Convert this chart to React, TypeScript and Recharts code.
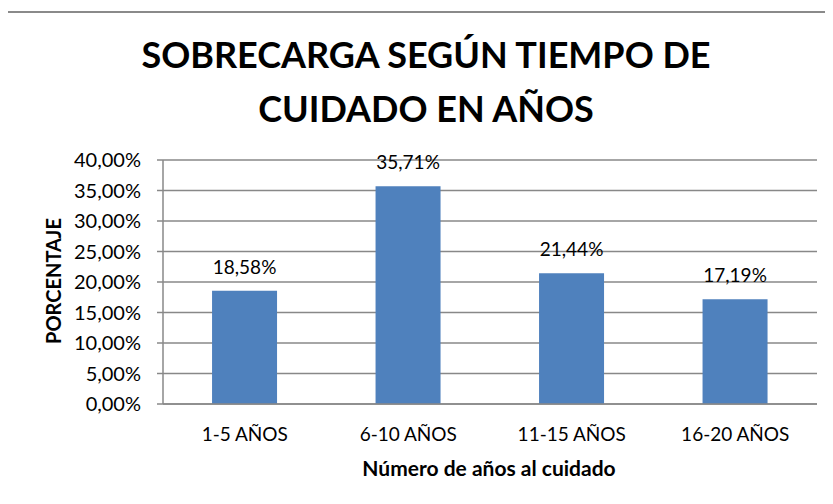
import React from "react";
import { BarChart, Bar, XAxis, YAxis, CartesianGrid, LabelList } from "recharts";

const categories = ["1-5 AÑOS", "6-10 AÑOS", "11-15 AÑOS", "16-20 AÑOS"];
const values = [18.58, 35.71, 21.44, 17.19];
const yTicks = [0, 5, 10, 15, 20, 25, 30, 35, 40];
const titleLines = ["SOBRECARGA SEGÚN TIEMPO DE", "CUIDADO EN AÑOS"];
const yTitle = "PORCENTAJE";
const xTitle = "Número de años al cuidado";

const data = categories.map((c, i) => ({ name: c, value: values[i] }));
const fmt = (v: number) => `${v.toFixed(2).replace(".", ",")}%`;
const FONT = "Lato, 'Open Sans', sans-serif";
const GRID = "#888";

export default function App() {
  return (
    <div style={{ position: "relative", width: 833, height: 504, marginLeft: -8, marginTop: -8, background: "#fff", overflow: "hidden" }}>
      <div style={{ position: "absolute", left: 0, top: 0 }}>
        <BarChart width={833} height={504} data={data} margin={{ top: 160, right: 16, bottom: 70, left: 0 }} barCategoryGap="30%">
          <CartesianGrid vertical={false} stroke={GRID} strokeWidth={1.5} />
          <XAxis
            dataKey="name"
            height={30}
            tickLine={false}
            tickSize={0}
            axisLine={{ stroke: GRID, strokeWidth: 1.5 }}
            tick={{ fill: "#000", fontSize: 19, fontFamily: FONT }}
            tickMargin={24}
          />
          <YAxis
            width={163}
            domain={[0, 40]}
            ticks={yTicks}
            interval={0}
            tickFormatter={fmt}
            tickSize={6}
            tickMargin={16}
            tickLine={{ stroke: GRID, strokeWidth: 1.5 }}
            axisLine={{ stroke: GRID, strokeWidth: 1.5 }}
            tick={{ fill: "#000", fontSize: 20, fontFamily: FONT }}
          />
          <Bar dataKey="value" fill="#4F81BD" isAnimationActive={false}>
            <LabelList dataKey="value" position="top" offset={17} formatter={(v: any) => fmt(Number(v))} fill="#000" fontSize={19} fontFamily={FONT} />
          </Bar>
        </BarChart>
      </div>
      <div style={{ position: "absolute", left: 5, top: 11, width: 828, height: 493, borderTop: "2px solid #8a8a8a", borderLeft: "2px solid #8a8a8a", boxSizing: "border-box" }} />
      <svg width={833} height={504} style={{ position: "absolute", left: 0, top: 0, pointerEvents: "none" }}>
        <text x={426} y={68} textAnchor="middle" fontFamily={FONT} fontWeight={700} fontSize={36} fill="#000">{titleLines[0]}</text>
        <text x={426} y={122} textAnchor="middle" fontFamily={FONT} fontWeight={700} fontSize={36} fill="#000">{titleLines[1]}</text>
        <text x={489} y={476} textAnchor="middle" fontFamily={FONT} fontWeight={700} fontSize={21} fill="#000">{xTitle}</text>
        <text x={61} y={281} transform="rotate(-90 61 281)" textAnchor="middle" fontFamily={FONT} fontWeight={700} fontSize={20} fill="#000">{yTitle}</text>
      </svg>
    </div>
  );
}
